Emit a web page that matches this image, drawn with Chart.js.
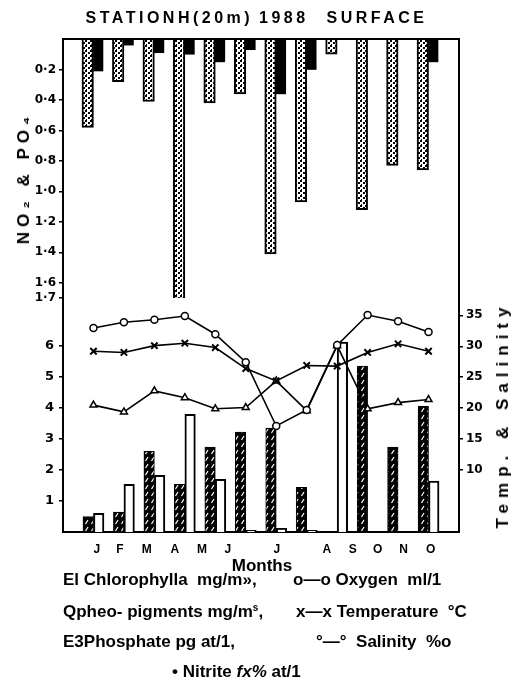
<!DOCTYPE html>
<html lang="en">
<head>
<meta charset="UTF-8">
<title>Station H (20m) 1988 surface</title>
<script src="https://cdn.jsdelivr.net/npm/chart.js"></script>
<style>
    body { margin: 0; background: #ffffff; }
    .page {
        position: relative;
        width: 513px;
        height: 692px;
        font-family: 'Liberation Sans', Arial, sans-serif;
        font-weight: bold;
        color: #000000;
    }
    #chart { position: absolute; left: 0; top: 0; }
    .title {
        position: absolute;
        top: 9px;
        left: 0;
        width: 513px;
        text-align: center;
        font-size: 16px;
        letter-spacing: 3.5px;
        word-spacing: -2px;
        white-space: pre;
    }
    .side {
        position: absolute;
        font-size: 17px;
        white-space: pre;
        transform: translate(-50%, -50%) rotate(-90deg);
    }
    .months { position: absolute; left: 262px; top: 556px; font-size: 17px; transform: translateX(-50%); }
    .leg { position: absolute; font-size: 17px; line-height: 20px; white-space: pre; }
    .leg sup { font-size: 10px; line-height: 0; vertical-align: 6px; }
</style>
</head>
<body>
<div class="page">
    <canvas id="chart" width="513" height="560"></canvas>
    <div class="title">STATIONH(20m) 1988   SURFACE</div>
    <div class="side" style="left: 24px; top: 178px; letter-spacing: 5px;">NO₂ &amp; PO₄</div>
    <div class="side" style="left: 503px; top: 415px; letter-spacing: 6px;">Temp. &amp; Salinity</div>
    <div class="months">Months</div>

    <div class="leg" style="left: 63px; top: 570px;">El Chlorophylla  mg/m»,</div>
    <div class="leg" style="left: 293px; top: 570px;">o—o Oxygen  ml/1</div>
    <div class="leg" style="left: 63px; top: 602px;">Qpheo- pigments mg/m<sup>s</sup>,</div>
    <div class="leg" style="left: 296px; top: 602px;">x—x Temperature  °C</div>
    <div class="leg" style="left: 63px; top: 632px;">E3Phosphate pg at/1,</div>
    <div class="leg" style="left: 316px; top: 632px;">°—°  Salinity  %o</div>
    <div class="leg" style="left: 172px; top: 662px;">• Nitrite <i>fx%</i> at/1</div>
</div>

<script>
    // sampling months, one group of bars per month
    const sampleNo = [1, 2, 3, 4, 5, 6, 7, 8, 9, 10, 11, 12];
    const monthLabels = ['J', 'F', 'M', 'A', 'M', 'J', 'J', 'A', 'S', 'O', 'N', 'O'];
    const monthLabelAt = [1.11, 1.87, 2.75, 3.67, 4.56, 5.41, 7.02, 8.66, 9.51, 10.33, 11.18, 12.07];

    // upper panel, hanging bars
    const phosphate = [0.58, 0.28, 0.41, 1.71, 0.42, 0.36, 1.41, 1.07, 0.10, 1.12, 0.83, 0.86];
    const nitrite = [0.21, 0.04, 0.09, 0.10, 0.15, 0.07, 0.36, 0.20, 0, 0, 0, 0.15];

    // lower panel
    const chlorophyll = [0.50, 0.64, 2.60, 1.54, 2.74, 3.22, 3.35, 1.44, 0, 5.35, 2.74, 4.06];
    const pheoPigments = [0.60, 1.54, 1.83, 3.80, 1.70, 0.05, 0.12, 0.05, 6.13, 0, 0, 1.64];
    const oxygen = [6.58, 6.77, 6.85, 6.97, 6.38, 5.48, 3.42, 3.94, 6.03, 7.00, 6.80, 6.45];
    const temperature = [29.2, 29.0, 30.1, 30.5, 29.8, 26.4, 24.4, 26.9, 26.8, 29.0, 30.4, 29.2];
    const salinity = [20.5, 19.4, 22.8, 21.7, 19.9, 20.1, 24.4, 19.6, 30.1, 19.9, 20.9, 21.4];

    const nutrientTicks = [0.2, 0.4, 0.6, 0.8, 1.0, 1.2, 1.4, 1.6, 1.7];
    const pigmentTicks = [1, 2, 3, 4, 5, 6];
    const tempSalTicks = [10, 15, 20, 25, 30, 35];

    const xy = arr => arr.map((v, i) => ({ x: sampleNo[i], y: v }));

    function hatchPattern() {
        const c = document.createElement('canvas');
        c.width = 6; c.height = 7;
        const g = c.getContext('2d');
        g.fillStyle = '#000';
        g.fillRect(0, 0, 6, 7);
        g.strokeStyle = '#fff';
        g.lineWidth = 1.2;
        g.beginPath();
        g.moveTo(1.5, 6);
        g.lineTo(4, 2);
        g.stroke();
        return g.createPattern(c, 'repeat');
    }

    function stipplePattern() {
        const c = document.createElement('canvas');
        c.width = 5; c.height = 5;
        const g = c.getContext('2d');
        g.fillStyle = '#fff';
        g.fillRect(0, 0, 5, 5);
        g.fillStyle = '#000';
        g.fillRect(0, 0, 2, 2);
        g.fillRect(3, 2, 2, 2);
        g.fillRect(1, 4, 1, 1);
        return g.createPattern(c, 'repeat');
    }

    const tickFont = { family: "'DejaVu Sans', sans-serif", size: 12, weight: 'bold' };

    function axisBase(extra) {
        return Object.assign({
            type: 'linear',
            stacked: false,
            border: { color: '#000', width: 2 },
            grid: { drawOnChartArea: false, color: '#000', lineWidth: 1.5, tickLength: 4 },
            ticks: { color: '#000', font: tickFont, padding: 3, autoSkip: false }
        }, extra);
    }

    // top line of the frame
    const frameTop = {
        id: 'frameTop',
        afterDraw(chart) {
            const { ctx, chartArea } = chart;
            ctx.save();
            ctx.strokeStyle = '#000';
            ctx.lineWidth = 2;
            ctx.beginPath();
            ctx.moveTo(chartArea.left - 1, chartArea.top);
            ctx.lineTo(chartArea.right + 1, chartArea.top);
            ctx.stroke();
            ctx.restore();
        }
    };

    new Chart(document.getElementById('chart'), {
        type: 'bar',
        data: {
            datasets: [
                {
                    type: 'line', label: 'Oxygen ml/1', data: xy(oxygen), yAxisID: 'yLow',
                    borderColor: '#000', borderWidth: 1.6, pointStyle: 'circle', pointRadius: 3.5,
                    pointBackgroundColor: '#fff', pointBorderColor: '#000', pointBorderWidth: 1.5, order: 0
                },
                {
                    type: 'line', label: 'Temperature °C', data: xy(temperature), yAxisID: 'yTS',
                    borderColor: '#000', borderWidth: 1.6, pointStyle: 'crossRot', pointRadius: 4.5,
                    pointBorderColor: '#000', pointBorderWidth: 2, order: 0
                },
                {
                    type: 'line', label: 'Salinity %o', data: xy(salinity), yAxisID: 'yTS',
                    borderColor: '#000', borderWidth: 1.6, pointStyle: 'triangle', pointRadius: 4,
                    pointBackgroundColor: '#fff', pointBorderColor: '#000', pointBorderWidth: 1.5, order: 0
                },
                {
                    label: 'Chlorophyll a', data: xy(chlorophyll), yAxisID: 'yLow', stack: 'a',
                    barThickness: 10.5,
                    backgroundColor: hatchPattern(), borderColor: '#000', borderWidth: 1, order: 1
                },
                {
                    label: 'Pheo-pigments', data: xy(pheoPigments), yAxisID: 'yLow', stack: 'b',
                    barThickness: 10.5,
                    backgroundColor: '#fff', borderColor: '#000', borderWidth: 2, order: 1
                },
                {
                    label: 'Phosphate', data: xy(phosphate), yAxisID: 'yNut', stack: 'a',
                    barThickness: 11.5,
                    backgroundColor: stipplePattern(), borderColor: '#000', borderWidth: 2, order: 1
                },
                {
                    label: 'Nitrite', data: xy(nitrite), yAxisID: 'yNut', stack: 'b',
                    barThickness: 9.5,
                    backgroundColor: '#000', borderColor: '#000', borderWidth: 0, order: 1
                }
            ]
        },
        options: {
            responsive: false,
            animation: false,
            devicePixelRatio: 1,
            layout: { padding: { top: 39, left: 0, right: 0, bottom: 0 } },
            plugins: { legend: { display: false }, tooltip: { enabled: false } },
            scales: {
                x: {
                    type: 'linear', min: 0, max: 13, offset: false, position: 'bottom',
                    border: { color: '#000', width: 2 },
                    grid: { drawOnChartArea: false, drawTicks: false, offset: false },
                    afterBuildTicks: s => { s.ticks = monthLabelAt.map(v => ({ value: v })); },
                    afterFit: s => { s.height = 28; },
                    ticks: {
                        color: '#000', autoSkip: false, maxRotation: 0, padding: 10,
                        font: { family: "'Liberation Sans', Arial, sans-serif", size: 12, weight: 'bold' },
                        callback: (v, i) => monthLabels[i]
                    }
                },
                yNut: axisBase({
                    position: 'left', stack: 'leftSide', stackWeight: 259, weight: 2,
                    reverse: true, min: 0, max: 1.7,
                    afterBuildTicks: s => { s.ticks = nutrientTicks.map(v => ({ value: v })); },
                    afterFit: s => { s.width = 63; },
                    ticks: { color: '#000', font: tickFont, padding: 3, autoSkip: false,
                        callback: v => v.toFixed(1).replace('.', '·') }
                }),
                yLow: axisBase({
                    position: 'left', stack: 'leftSide', stackWeight: 234, weight: 1,
                    min: 0, max: 7.55,
                    afterBuildTicks: s => { s.ticks = pigmentTicks.map(v => ({ value: v })); },
                    afterFit: s => { s.width = 63; },
                    ticks: { color: '#000', font: { family: "'DejaVu Sans', sans-serif", size: 13, weight: 'bold' },
                        padding: 5, autoSkip: false }
                }),
                yFrame: axisBase({
                    position: 'right', stack: 'rightSide', stackWeight: 259, weight: 1,
                    min: 0, max: 1,
                    grid: { drawOnChartArea: false, drawTicks: false },
                    afterFit: s => { s.width = 54; },
                    ticks: { display: false }
                }),
                yTS: axisBase({
                    position: 'right', stack: 'rightSide', stackWeight: 234, weight: 2,
                    min: 0, max: 37.8,
                    afterBuildTicks: s => { s.ticks = tempSalTicks.map(v => ({ value: v })); },
                    afterFit: s => { s.width = 54; }
                })
            }
        },
        plugins: [frameTop]
    });
</script>
</body>
</html>
